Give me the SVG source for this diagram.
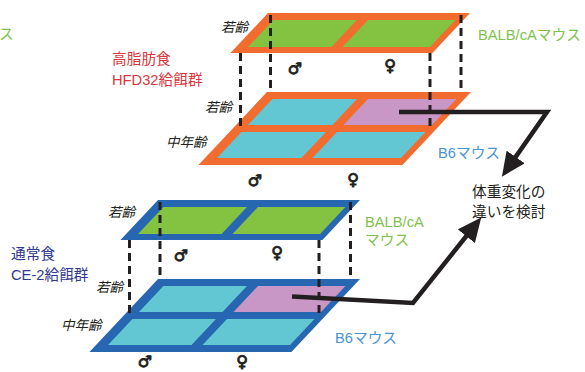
<svg xmlns="http://www.w3.org/2000/svg" width="585" height="372" viewBox="0 0 585 372">
<defs>
<style>
.or{fill:#f26b2f}
.bl{fill:#2767b1}
.gr{fill:#84c341}
.cy{fill:#63c7d3}
.pk{fill:#c997c5}
.t{font-family:"Liberation Sans","Noto Sans CJK JP",sans-serif;font-size:14.7px}
.age{font-family:"Noto Sans CJK JP",sans-serif;font-size:13.5px;font-style:italic;fill:#231f20}
.sex{font-family:"DejaVu Sans",sans-serif;font-size:16px;font-weight:bold;font-style:italic;fill:#231f20;stroke:#231f20;stroke-width:0.9;text-anchor:middle}
.dash{stroke:#231f20;stroke-width:3;stroke-dasharray:8 5;fill:none}
.arr{stroke:#231f20;stroke-width:4.5;fill:none;stroke-linejoin:miter;marker-end:url(#ah)}
</style>
<marker id="ah" markerUnits="userSpaceOnUse" markerWidth="26" markerHeight="24" refX="6" refY="11" orient="auto">
<path d="M0,0 L24,11 L0,22 z" fill="#231f20"/>
</marker>
</defs>
<rect width="585" height="372" fill="#ffffff"/>

<g id="hfd-balb">
<g transform="translate(268,13) skewX(-43.2)">
<rect width="202" height="40" class="or"/>
<rect x="12" y="7" width="83.5" height="27" class="gr"/>
<rect x="106.5" y="7" width="87.5" height="27" class="gr"/>
</g>
<text class="age" x="221" y="32">若齢</text>
<text class="sex" x="295" y="74">♂</text>
<text class="sex" x="390" y="71">♀</text>
</g>

<g id="hfd-b6">
<g transform="translate(267,92) skewX(-43.2)">
<rect width="204" height="73" class="or"/>
<rect x="12" y="7" width="84.5" height="26" class="cy"/>
<rect x="107.5" y="7" width="88.5" height="26" class="pk"/>
<rect x="12" y="40" width="84.5" height="26" class="cy"/>
<rect x="107.5" y="40" width="88.5" height="26" class="cy"/>
</g>
<text class="age" x="205" y="112">若齢</text>
<text class="age" x="166" y="147">中年齢</text>
<text class="sex" x="255" y="186">♂</text>
<text class="sex" x="353" y="185">♀</text>
</g>

<g id="ce2-balb">
<g transform="translate(158,200) skewX(-43.2)">
<rect width="202" height="40" class="bl"/>
<rect x="12" y="7" width="83.5" height="27" class="gr"/>
<rect x="106.5" y="7" width="87.5" height="27" class="gr"/>
</g>
<text class="age" x="108" y="217">若齢</text>
<text class="sex" x="181" y="261">♂</text>
<text class="sex" x="277" y="258">♀</text>
</g>

<g id="ce2-b6">
<g transform="translate(158,279) skewX(-43.2)">
<rect width="202" height="73" class="bl"/>
<rect x="12" y="7" width="83.5" height="26" class="cy"/>
<rect x="106.5" y="7" width="87.5" height="26" class="pk"/>
<rect x="12" y="40" width="83.5" height="26" class="cy"/>
<rect x="106.5" y="40" width="87.5" height="26" class="cy"/>
</g>
<text class="age" x="96" y="292">若齢</text>
<text class="age" x="61" y="330">中年齢</text>
<text class="sex" x="145" y="367">♂</text>
<text class="sex" x="242" y="367">♀</text>
</g>

<g id="labels">
<text class="t" x="-1" y="39" fill="#7fc24a">ス</text>
<text class="t" x="478" y="40" fill="#7fc24a">BALB/cAマウス</text>
<text class="t" x="112" y="64" fill="#d8373c">高脂肪食</text>
<text class="t" x="112" y="85" fill="#d8373c">HFD32給餌群</text>
<text class="t" x="438" y="158" fill="#4a94d2">B6マウス</text>
<text class="t" x="472" y="197" fill="#231f20">体重変化の</text>
<text class="t" x="472" y="217" fill="#231f20">違いを検討</text>
<text class="t" x="365" y="227" fill="#7fc24a">BALB/cA</text>
<text class="t" x="365" y="245" fill="#7fc24a">マウス</text>
<text class="t" x="335" y="343" fill="#4a94d2">B6マウス</text>
<text class="t" x="11" y="259" fill="#2f3a8c">通常食</text>
<text class="t" x="11" y="280" fill="#2f3a8c">CE-2給餌群</text>
</g>

<g id="connectors">
<line class="dash" x1="240.5" y1="53" x2="240.5" y2="129"/>
<line class="dash" x1="270.5" y1="15" x2="270.5" y2="92"/>
<line class="dash" x1="430" y1="53" x2="430" y2="129"/>
<line class="dash" x1="461" y1="15" x2="461" y2="92"/>
<line class="dash" x1="129.5" y1="240" x2="129.5" y2="313"/>
<line class="dash" x1="160" y1="202" x2="160" y2="279"/>
<line class="dash" x1="319" y1="240" x2="319" y2="313"/>
<line class="dash" x1="350.5" y1="202" x2="350.5" y2="279"/>
<polyline class="arr" points="399,112 547,112 512.2,161.9"/>
<polyline class="arr" points="292,296.5 413,303 470,231.5"/>
</g>
</svg>
